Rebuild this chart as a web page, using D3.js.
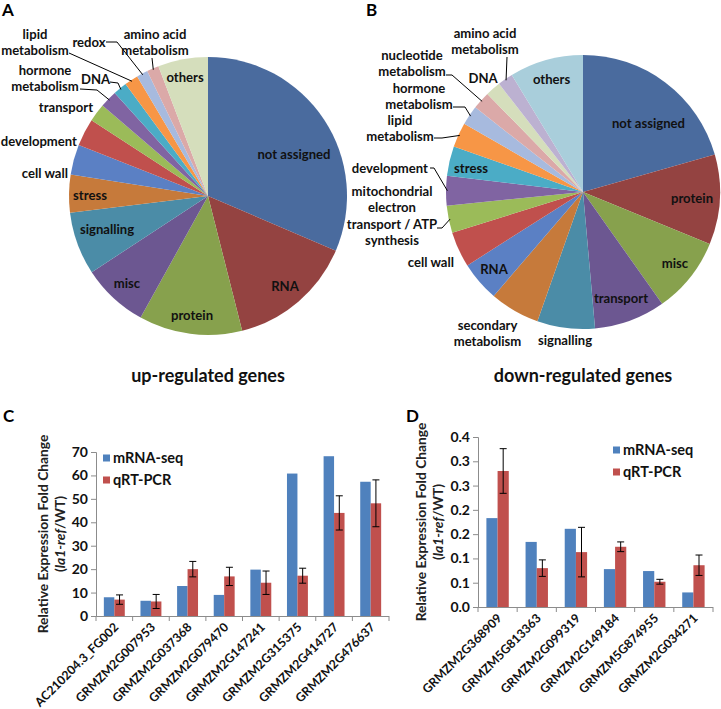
<!DOCTYPE html>
<html><head><meta charset="utf-8">
<script src="https://cdn.jsdelivr.net/npm/d3@7/dist/d3.min.js"></script>
<style>body{margin:0;background:#fff} text{font-family:Lato,"Open Sans",sans-serif;}</style>
</head><body><svg id="c" width="721" height="709"></svg>
<script>
// ---------- DATA ----------
const upCategories = ["not assigned","RNA","protein","misc","signalling","stress","cell wall","development","transport","hormone metabolism","DNA","lipid metabolism","redox","amino acid metabolism","others"];
const upValues = [31.4,14.6,12.0,7.7,7.3,4.4,3.5,3.2,2.1,2.0,1.6,1.6,1.3,1.4,5.8];

const downCategories = ["not assigned","protein","misc","transport","signalling","secondary metabolism","RNA","cell wall","mitochondrial electron transport / ATP synthesis","development","stress","lipid metabolism","hormone metabolism","nucleotide metabolism","DNA","amino acid metabolism","others"];
const downValues = [20.6,10.6,9.0,8.4,6.8,5.9,4.7,4.2,3.2,3.5,3.5,2.9,2.3,2.1,1.8,1.8,8.7];

const cGenes = ["AC210204.3_FG002","GRMZM2G007953","GRMZM2G037368","GRMZM2G079470","GRMZM2G147241","GRMZM2G315375","GRMZM2G414727","GRMZM2G476637"];
const cMrnaSeq = [8.0,6.5,12.8,9.0,19.8,60.8,68.2,57.3];
const cQrtPcr = [7.0,6.2,20.0,16.9,14.2,17.2,44.0,48.1];
const cQrtPcrErr = [2.0,3.0,3.3,3.9,5.0,3.2,7.3,10.0];
const cTicks = [0,10,20,30,40,50,60,70];

const dGenes = ["GRMZM2G368909","GRMZM5G813363","GRMZM2G099319","GRMZM2G149184","GRMZM5G874955","GRMZM2G034271"];
const dMrnaSeq = [0.183,0.134,0.161,0.078,0.074,0.030];
const dQrtPcr = [0.280,0.080,0.113,0.124,0.052,0.086];
const dQrtPcrErr = [0.046,0.017,0.051,0.010,0.005,0.021];
const dTicks = [0,0.05,0.10,0.15,0.20,0.25,0.30,0.35];
const dTickLabels = ["0.0","0.1","0.1","0.2","0.2","0.3","0.3","0.4"];

const seriesNames = ["mRNA-seq","qRT-PCR"];

// ---------- STYLE ----------
const piePalette = ["#4A6B9E","#944341","#87A14D","#6C5791","#4B8CA7","#C67A3B","#5B80C4","#C0504D","#9BBB59","#8064A2","#4BACC6","#F79646","#A7BADE","#DBA9A8","#D5DEBC","#BCB1D1","#A9CEDB"];
const barColors = ["#4F81BD","#C0504D"];
const FONT = 'Lato,"Open Sans",sans-serif';

const svg = d3.select("#c");

// label layouts (relative to pie centre)
const upLayout = {
  "not assigned":{p:[86,-42]},
  "RNA":{p:[77,90]},
  "protein":{p:[-16,119]},
  "misc":{p:[-81,87]},
  "signalling":{p:[-101,33]},
  "stress":{p:[-118,-1]},
  "cell wall":{p:[-140,-23],a:"end"},
  "development":{p:[-131,-55],a:"end"},
  "transport":{p:[-115,-89],a:"end"},
  "hormone metabolism":{p:[-163,-126],lines:["hormone","metabolism"],leader:[[-128,-107],[-111,-106]]},
  "DNA":{p:[-112.5,-117],leader:[[-98,-114],[-90,-113]]},
  "lipid metabolism":{p:[-173,-162],lines:["lipid","metabolism"],leader:[[-139,-143]]},
  "redox":{p:[-119,-154],leader:[[-102,-154],[-91,-154]]},
  "amino acid metabolism":{p:[-53,-162],lines:["amino acid","metabolism"],leader:[[-56,-138]]},
  "others":{p:[-23,-119]}
};
const downLayout = {
  "not assigned":{p:[65.5,-69]},
  "protein":{p:[109,6]},
  "misc":{p:[92,71]},
  "transport":{p:[38,106]},
  "signalling":{p:[-18,148]},
  "secondary metabolism":{p:[-95.5,133],lines:["secondary","metabolism"]},
  "RNA":{p:[-89,77]},
  "cell wall":{p:[-129,70],a:"end"},
  "mitochondrial electron transport / ATP synthesis":{p:[-191,-1],lines:["mitochondrial","electron","transport / ATP","synthesis"],leader:[[-146,36],[-141,36]]},
  "development":{p:[-155,-24],a:"end",leader:[[-153,-24],[-149,-24]]},
  "stress":{p:[-112,-24]},
  "lipid metabolism":{p:[-183,-72],lines:["lipid","metabolism"],leader:[[-149,-54],[-141,-54]]},
  "hormone metabolism":{p:[-164,-104],lines:["hormone","metabolism"],leader:[[-130,-85],[-118,-85]]},
  "nucleotide metabolism":{p:[-171,-137],lines:["nucleotide","metabolism"],leader:[[-137,-117],[-131,-117]]},
  "DNA":{p:[-100,-114]},
  "amino acid metabolism":{p:[-98,-159],lines:["amino acid","metabolism"],leader:[[-76,-135]]},
  "others":{p:[-31.5,-113]}
};

function drawPie(cx, cy, r, cats, vals, layout, title) {
  const g = svg.append("g").attr("transform", `translate(${cx},${cy})`);
  const pie = d3.pie().sort(null).value(d => d.v);
  const arcs = pie(cats.map((c,i)=>({c, v: vals[i], i})));
  const arc = d3.arc().innerRadius(0).outerRadius(r);
  g.selectAll("path.s").data(arcs).join("path").attr("class","s")
    .attr("d", arc).attr("fill", d => piePalette[d.data.i]);
  const lh = 16.5;
  arcs.forEach(d => {
    const L = layout[d.data.c];
    const lines = L.lines || [d.data.c];
    const t = g.append("text").attr("x", L.p[0]).attr("y", L.p[1])
      .attr("text-anchor", L.a || "middle").attr("font-size", 13.1).attr("font-weight", 700).attr("fill","#111");
    lines.forEach((ln, k) => {
      t.append("tspan").attr("x", L.p[0]).attr("y", L.p[1] + k*lh).attr("dy","0.35em").text(ln);
    });
    if (L.leader) {
      const a = (d.startAngle + d.endAngle)/2;
      const pts = L.leader.concat([[r*Math.sin(a)*0.99, -r*Math.cos(a)*0.99]]);
      g.append("path").attr("d", d3.line()(pts)).attr("fill","none").attr("stroke","#000").attr("stroke-width",1);
    }
  });
  svg.append("text").attr("x", cx).attr("y", 376).attr("dy","0.35em").attr("text-anchor","middle")
    .attr("font-size", 18).attr("font-weight", 700).attr("fill","#111").text(title);
}

drawPie(208, 196, 139, upCategories, upValues, upLayout, "up-regulated genes");
drawPie(583, 192, 137, downCategories, downValues, downLayout, "down-regulated genes");

// panel letters
[["A",2,16],["B",366,16],["C",3,422],["D",406,422]].forEach(([t,x,y]) => {
  svg.append("text").attr("x",x).attr("y",y).attr("font-family","Arial, Liberation Sans, sans-serif")
    .attr("font-size",17).attr("font-weight",700).attr("fill","#000").text(t);
});

function barChart(o) {
  const x = d3.scaleBand().domain(o.genes).range([o.x0, o.x1]).padding(0);
  const y = d3.scaleLinear().domain([0, o.ymax]).range([o.y0, o.y1]);
  const g = svg.append("g");
  const bw = x.bandwidth()/3.5;
  const off = (x.bandwidth() - 2*bw)/2;
  [o.a, o.b].forEach((vals, s) => {
    g.selectAll(null).data(vals).join("rect")
      .attr("x", (d,i) => x(o.genes[i]) + off + s*bw)
      .attr("y", d => y(d)).attr("width", bw).attr("height", d => y(0) - y(d))
      .attr("fill", barColors[s]);
  });
  // error bars
  o.b.forEach((v,i) => {
    const cxp = x(o.genes[i]) + off + 1.5*bw;
    const e = o.err[i];
    const eg = g.append("g").attr("stroke","#000").attr("stroke-width",1);
    eg.append("line").attr("x1",cxp).attr("x2",cxp).attr("y1",y(v+e)).attr("y2",y(v-e));
    eg.append("line").attr("x1",cxp-3.5).attr("x2",cxp+3.5).attr("y1",y(v+e)).attr("y2",y(v+e));
    eg.append("line").attr("x1",cxp-3.5).attr("x2",cxp+3.5).attr("y1",y(v-e)).attr("y2",y(v-e));
  });
  // y axis
  const ya = d3.axisLeft(y).tickValues(o.ticks).tickSize(5).tickPadding(3)
    .tickFormat((d,i) => o.tickLabels ? o.tickLabels[i] : d3.format("d")(d));
  const yg = g.append("g").attr("transform", `translate(${o.x0},0)`).call(ya);
  yg.selectAll("path,line").attr("stroke","#8c8c8c");
  yg.selectAll("text").attr("font-family",FONT).attr("font-size",14).attr("font-weight",700).attr("fill","#111");
  // x axis
  const xa = g.append("g").attr("stroke","#8c8c8c");
  xa.append("line").attr("x1",o.x0).attr("x2",o.x1).attr("y1",o.y0+0.5).attr("y2",o.y0+0.5);
  o.genes.concat([null]).forEach((gname,i) => {
    const xx = gname ? x(gname) : o.x1;
    xa.append("line").attr("x1",xx).attr("x2",xx).attr("y1",o.y0).attr("y2",o.y0+5);
  });
  o.genes.forEach(gname => {
    const cxp = x(gname) + x.bandwidth()/2 + 2;
    g.append("text").attr("transform", `translate(${cxp},${o.y0+9}) rotate(-45)`)
      .attr("text-anchor","end").attr("dy","0.35em").attr("font-size",12.3).attr("font-weight",700).attr("fill","#111").text(gname);
  });
  // y title
  const tt = g.append("text").attr("transform", `translate(${o.tx},${(o.y0+o.y1)/2}) rotate(-90)`)
    .attr("text-anchor","middle").attr("font-size",13.8).attr("font-weight",700).attr("fill","#222");
  tt.append("tspan").attr("x",0).attr("y",0).attr("dy","0.35em").text("Relative Expression Fold Change");
  const t2 = tt.append("tspan").attr("x",0).attr("y",17).attr("dy","0.35em");
  t2.append("tspan").text("(");
  t2.append("tspan").attr("font-style","italic").text("la1-ref");
  t2.append("tspan").text("/WT)");
  // legend
  seriesNames.forEach((n,s) => {
    const ly = o.ly + s*22;
    g.append("rect").attr("x", o.lx).attr("y", ly-3.5).attr("width",7).attr("height",7).attr("fill",barColors[s]);
    g.append("text").attr("x", o.lx+10).attr("y", ly).attr("dy","0.35em").attr("font-size",14.5).attr("font-weight",700).attr("fill","#111").text(n);
  });
}

barChart({genes:cGenes, a:cMrnaSeq, b:cQrtPcr, err:cQrtPcrErr, ymax:70, ticks:cTicks,
  x0:96, x1:389, y0:616, y1:452, tx:43, lx:103, ly:458});
barChart({genes:dGenes, a:dMrnaSeq, b:dQrtPcr, err:dQrtPcrErr, ymax:0.35, ticks:dTicks, tickLabels:dTickLabels,
  x0:478, x1:713, y0:607, y1:437, tx:421, lx:613, ly:450});
</script></body></html>
